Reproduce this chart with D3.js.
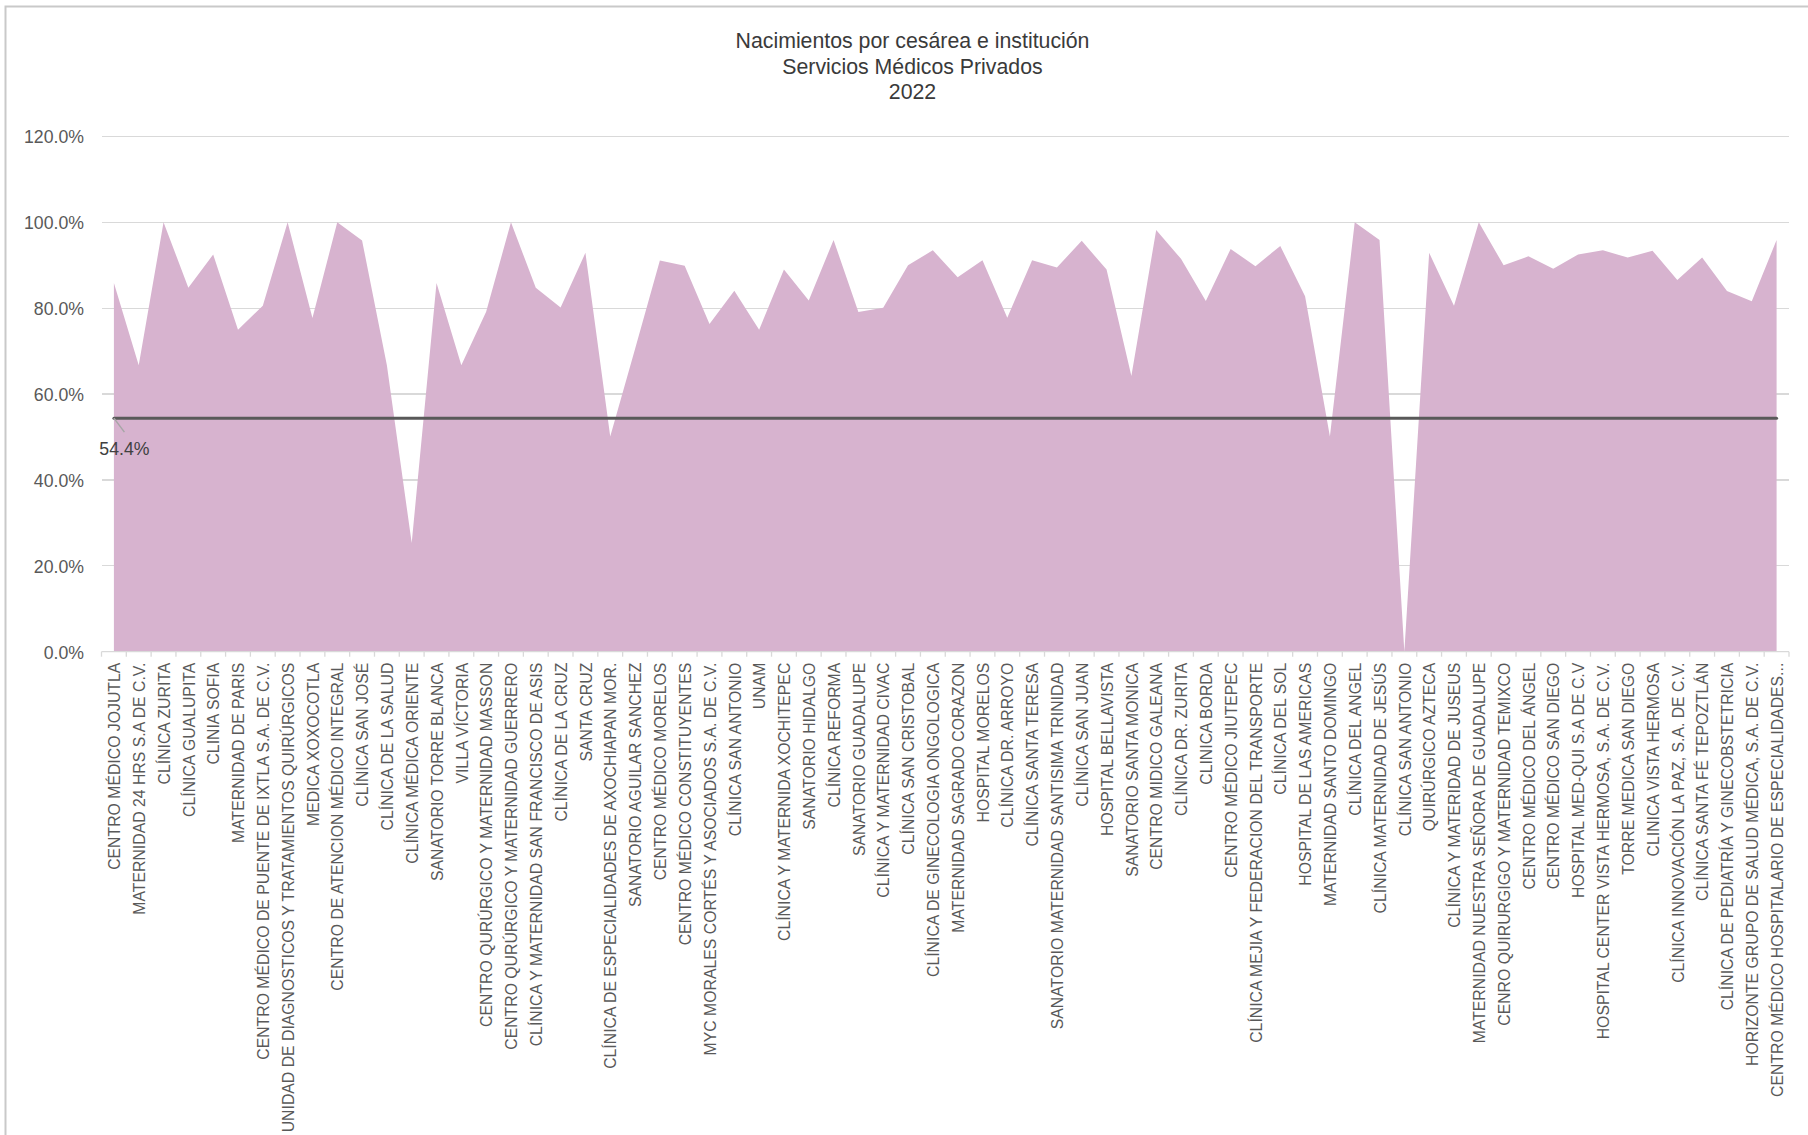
<!DOCTYPE html>
<meta charset="utf-8">
<title>Nacimientos por cesárea e institución</title>
<style>
body { margin: 0; background: #fff; }
svg { display: block; font-family: "Liberation Sans", Arial, sans-serif; }
.grid line { stroke: #d9d9d9; stroke-width: 1.3; shape-rendering: crispEdges; }
.x-axis path, .x-axis line, .y-axis path, .y-axis line { display: none; }
.x-axis text { fill: #595959; font-size: 15.8px; }
.y-axis text { fill: #595959; font-size: 17.7px; }
.title text { fill: #3a3a3a; font-size: 21.3px; }
</style>
<body>
<script src="https://cdn.jsdelivr.net/npm/d3@7"></script>
<script>
// instituciones (eje x)
var instituciones = [
  "CENTRO MÉDICO JOJUTLA",
  "MATERNIDAD 24 HRS S.A DE C.V.",
  "CLÍNICA ZURITA",
  "CLÍNICA GUALUPITA",
  "CLINIA SOFIA",
  "MATERNIDAD DE PARIS",
  "CENTRO MÉDICO DE PUENTE DE IXTLA S.A. DE C.V.",
  "UNIDAD DE DIAGNOSTICOS Y TRATAMIENTOS QUIRÚRGICOS",
  "MEDICA XOXOCOTLA",
  "CENTRO DE ATENCION MÉDICO INTEGRAL",
  "CLÍNICA SAN JOSÉ",
  "CLÍNICA DE LA SALUD",
  "CLÍNICA MÉDICA ORIENTE",
  "SANATORIO TORRE BLANCA",
  "VILLA VÍCTORIA",
  "CENTRO QURÚRGICO Y MATERNIDAD MASSON",
  "CENTRO QURÚRGICO Y MATERNIDAD GUERRERO",
  "CLÍNICA Y MATERNIDAD SAN FRANCISCO DE ASIS",
  "CLÍNICA DE LA CRUZ",
  "SANTA CRUZ",
  "CLÍNICA DE ESPECIALIDADES DE AXOCHIAPAN MOR.",
  "SANATORIO AGUILAR SANCHEZ",
  "CENTRO MÉDICO MORELOS",
  "CENTRO MÉDICO CONSTITUYENTES",
  "MYC MORALES CORTÉS Y ASOCIADOS S.A. DE C.V.",
  "CLÍNICA SAN ANTONIO",
  "UNAM",
  "CLÍNICA Y MATERNIDA XOCHITEPEC",
  "SANATORIO HIDALGO",
  "CLÍNICA REFORMA",
  "SANATORIO GUADALUPE",
  "CLÍNICA Y MATERNIDAD CIVAC",
  "CLÍNICA SAN CRISTOBAL",
  "CLÍNICA DE GINECOLOGIA ONGOLOGICA",
  "MATERNIDAD SAGRADO CORAZON",
  "HOSPITAL MORELOS",
  "CLÍNICA DR. ARROYO",
  "CLÍNICA SANTA TERESA",
  "SANATORIO MATERNIDAD SANTISIMA TRINIDAD",
  "CLÍNICA SAN JUAN",
  "HOSPITAL BELLAVISTA",
  "SANATORIO SANTA MONICA",
  "CENTRO MIDICO GALEANA",
  "CLÍNICA DR.  ZURITA",
  "CLINICA BORDA",
  "CENTRO MÉDICO JIUTEPEC",
  "CLÍNICA MEJIA Y FEDERACION DEL TRANSPORTE",
  "CLÍNICA DEL SOL",
  "HOSPITAL DE LAS AMERICAS",
  "MATERNIDAD SANTO DOMINGO",
  "CLÍNICA DEL ANGEL",
  "CLÍNICA MATERNIDAD DE JESÚS",
  "CLÍNICA SAN ANTONIO ",
  "QUIRÚRGICO AZTECA",
  "CLÍNICA Y MATERIDAD DE JUSEUS",
  "MATERNIDAD NUESTRA SEÑORA DE GUADALUPE",
  "CENRO QUIRURGIGO Y MATERNIDAD TEMIXCO",
  "CENTRO MÉDICO DEL ÁNGEL",
  "CENTRO MÉDICO SAN DIEGO",
  "HOSPITAL MED-QUI S.A DE C.V",
  "HOSPITAL CENTER VISTA HERMOSA, S.A. DE C.V.",
  "TORRE MEDICA SAN DIEGO",
  "CLINICA VISTA HERMOSA",
  "CLÍNICA INNOVACIÓN LA PAZ, S.A. DE C.V.",
  "CLÍNICA SANTA FÉ TEPOZTLÁN",
  "CLÍNICA DE PEDIATRÍA Y GINECOBSTETRICIA",
  "HORIZONTE GRUPO DE SALUD MÉDICA, S.A. DE C.V.",
  "CENTRO MÉDICO HOSPITALARIO DE ESPECIALIDADES..."
];

// porcentaje de nacimientos por cesárea
var cesareas = [
  85.9, 66.7, 100, 84.8, 92.5, 75.0, 80.6, 100, 77.7, 100,
  95.8, 66.7, 25.3, 85.9, 66.7, 79.2, 100, 84.8, 80.2, 92.9,
  50.1, 70.5, 91.1, 89.9, 76.3, 84.1, 75.0, 89.0, 81.8, 95.9,
  79.1, 80.1, 90.0, 93.5, 87.2, 91.2, 77.8, 91.2, 89.5, 95.7,
  89.0, 64.2, 98.2, 91.5, 81.7, 93.8, 89.8, 94.5, 82.8, 50.1,
  100, 95.9, 0, 92.9, 80.6, 100, 90.0, 92.1, 89.2, 92.5,
  93.5, 91.8, 93.4, 86.6, 91.8, 84.0, 81.6, 95.9
];

var promedio = 54.4;

var yTicks = [0, 20, 40, 60, 80, 100, 120];

var titulo = [
  "Nacimientos por cesárea e institución",
  "Servicios Médicos Privados",
  "2022"
];

var width = 1808, height = 1135;
var plot = {left: 101.5, right: 1789, top: 136.5, bottom: 651.7};

var svg = d3.select("body").append("svg")
  .attr("width", width)
  .attr("height", height);

// marco del gráfico
svg.append("rect")
  .attr("x", 5.5)
  .attr("y", 6.5)
  .attr("width", 2400)
  .attr("height", 2400)
  .attr("fill", "none")
  .attr("stroke", "#c9c9c9")
  .attr("stroke-width", 2);

var data = instituciones.map(function(d, i) { return {name: d, value: cesareas[i]}; });

var xBand = d3.scaleBand()
  .domain(instituciones)
  .range([plot.left, plot.right]);

var x = d3.scalePoint()
  .domain(instituciones)
  .range([plot.left, plot.right])
  .padding(0.5);

var y = d3.scaleLinear()
  .domain([0, 120])
  .range([plot.bottom, plot.top]);

// titulo
svg.append("g")
  .attr("class", "title")
  .selectAll("text")
  .data(titulo)
  .enter().append("text")
  .attr("x", 912.5)
  .attr("y", function(d, i) { return 48 + i * 25.6; })
  .attr("text-anchor", "middle")
  .text(function(d) { return d; });

// lineas de cuadricula
svg.append("g")
  .attr("class", "grid")
  .selectAll("line")
  .data(yTicks.slice(1))
  .enter().append("line")
  .attr("x1", plot.left)
  .attr("x2", plot.right)
  .attr("y1", function(d) { return y(d); })
  .attr("y2", function(d) { return y(d); });

// eje y
var yAxis = svg.append("g")
  .attr("class", "y-axis")
  .attr("transform", "translate(" + (plot.left - 17.5) + ",0)")
  .call(d3.axisLeft(y).tickValues(yTicks).tickSize(0).tickPadding(0)
    .tickFormat(function(d) { return d3.format(".1f")(d) + "%"; }));
yAxis.selectAll("text").attr("dy", "0.36em");

// area
var area = d3.area()
  .x(function(d) { return x(d.name); })
  .y0(y(0))
  .y1(function(d) { return y(d.value); });

svg.append("path")
  .datum(data)
  .attr("fill", "#d7b3cf")
  .attr("d", area);

// eje x: linea y marcas entre categorias
var xAxisLine = svg.append("g").attr("class", "x-line");
xAxisLine.append("line")
  .attr("x1", plot.left)
  .attr("x2", plot.right)
  .attr("y1", y(0))
  .attr("y2", y(0))
  .attr("stroke", "#d9d9d9")
  .attr("stroke-width", 1.3);
xAxisLine.selectAll(".tick")
  .data(instituciones.concat([null]))
  .enter().append("line")
  .attr("class", "tick")
  .attr("x1", function(d) { return d === null ? plot.right : xBand(d); })
  .attr("x2", function(d) { return d === null ? plot.right : xBand(d); })
  .attr("y1", y(0))
  .attr("y2", y(0) + 5)
  .attr("stroke", "#d9d9d9")
  .attr("stroke-width", 1.3);

var xAxis = svg.append("g")
  .attr("class", "x-axis")
  .attr("transform", "translate(0," + y(0) + ")")
  .call(d3.axisBottom(x).tickSize(0));
xAxis.selectAll("text")
  .attr("transform", "rotate(-90)")
  .attr("x", -11)
  .attr("y", 0)
  .attr("dy", "0.36em")
  .style("text-anchor", "end");

// linea de promedio
var first = instituciones[0], last = instituciones[instituciones.length - 1];
svg.append("line")
  .attr("x1", x(first))
  .attr("x2", x(last))
  .attr("y1", y(promedio))
  .attr("y2", y(promedio))
  .attr("stroke", "#595959")
  .attr("stroke-width", 3)
  .attr("stroke-linecap", "round");

// etiqueta del promedio con linea guia
svg.append("line")
  .attr("x1", x(first))
  .attr("y1", y(promedio))
  .attr("x2", x(first) + 10.5)
  .attr("y2", y(promedio) + 14)
  .attr("stroke", "#a6a6a6")
  .attr("stroke-width", 1.5);

svg.append("text")
  .attr("x", x(first) + 10.5)
  .attr("y", y(promedio) + 37)
  .attr("text-anchor", "middle")
  .attr("fill", "#404040")
  .style("font-size", "17.7px")
  .text(d3.format(".1f")(promedio) + "%");
</script>
